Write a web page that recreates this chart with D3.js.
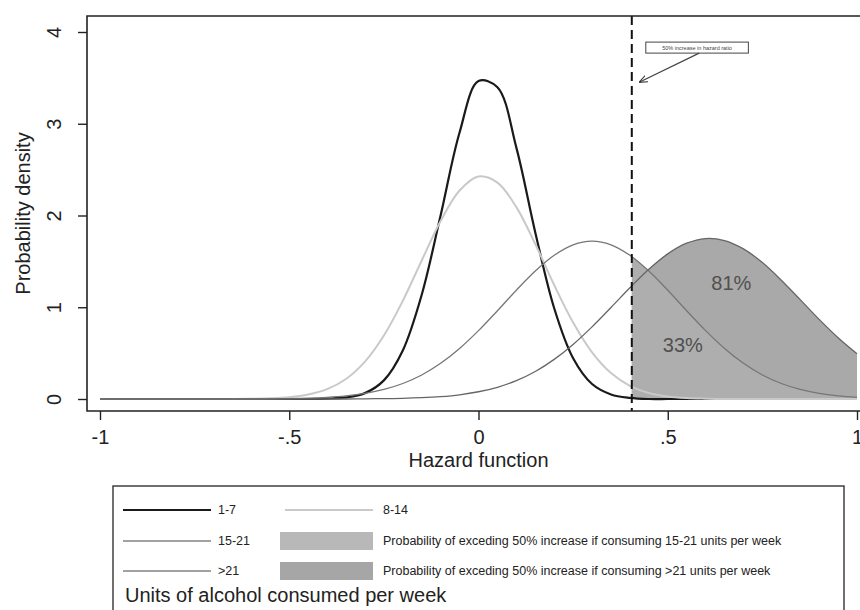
<!DOCTYPE html>
<html>
<head>
<meta charset="utf-8">
<script src="https://cdn.jsdelivr.net/npm/d3@7"></script>
<style>
  body { margin: 0; background: #fff; }
  svg { font-family: "Liberation Sans", Arial, sans-serif; }
</style>
</head>
<body>
<div id="chart"></div>
<script>
const hazard = [-1, -0.95, -0.9, -0.85, -0.8, -0.75, -0.7, -0.65, -0.6, -0.55, -0.5,
  -0.45, -0.4, -0.35, -0.3, -0.25, -0.2, -0.15, -0.1, -0.05, 0,
  0.05, 0.1, 0.15, 0.2, 0.25, 0.3, 0.35, 0.4, 0.45, 0.5,
  0.55, 0.6, 0.65, 0.7, 0.75, 0.8, 0.85, 0.9, 0.95, 1];

const units1to7 = [0, 0, 0, 0, 0, 0, 0, 0, 0, 0, 0,
  0, 0.004, 0.017, 0.064, 0.203, 0.529, 1.136, 2.003, 2.905, 3.465,
  3.398, 2.740, 1.816, 0.989, 0.444, 0.163, 0.050, 0.012, 0, 0,
  0, 0, 0, 0, 0, 0, 0, 0, 0, 0];
const units8to14 = [0, 0, 0, 0, 0, 0, 0, 0, 0.002, 0.007, 0.019,
  0.048, 0.107, 0.218, 0.407, 0.692, 1.070, 1.510, 1.940, 2.272, 2.425,
  2.359, 2.091, 1.689, 1.242, 0.833, 0.509, 0.283, 0.144, 0.066, 0.028,
  0.011, 0.004, 0, 0, 0, 0, 0, 0, 0, 0];
const units15to21 = [0, 0, 0, 0, 0, 0, 0, 0, 0, 0, 0.005,
  0.009, 0.018, 0.034, 0.061, 0.104, 0.169, 0.262, 0.389, 0.551, 0.745,
  0.962, 1.186, 1.395, 1.567, 1.681, 1.720, 1.681, 1.567, 1.395, 1.186,
  0.962, 0.745, 0.551, 0.389, 0.262, 0.169, 0.104, 0.061, 0.034, 0.018];
const units21plus = [0, 0, 0, 0, 0, 0, 0, 0, 0, 0, 0,
  0, 0, 0, 0.002, 0.004, 0.007, 0.014, 0.026, 0.046, 0.079,
  0.128, 0.200, 0.300, 0.432, 0.595, 0.786, 0.997, 1.212, 1.414, 1.582,
  1.698, 1.749, 1.727, 1.636, 1.487, 1.295, 1.083, 0.868, 0.668, 0.493];

const xTicks = [-1, -0.5, 0, 0.5, 1];
const xTickLabels = ['-1', '-.5', '0', '.5', '1'];
const yTicks = [0, 1, 2, 3, 4];

// log(1.5): a 50% increase in hazard
const threshold = 0.405;
const shareLabels = [
  { text: '81%', x: 0.668, y: 1.26 },
  { text: '33%', x: 0.54, y: 0.59 }
];

const width = 860;
const height = 610;
const frameLeft = 87;
const frameTop = 16;
const frameBottom = 411;

const svg = d3.select('#chart')
  .append('svg')
    .attr('width', width)
    .attr('height', height)
    .attr('viewBox', [0, 0, width, height]);

const x = d3.scaleLinear().domain([-1, 1]).range([100, 857]);
const y = d3.scaleLinear().domain([0, 4]).range([399, 32]);

const series = [
  { name: '1-7', values: units1to7, color: '#1a1a1a', width: 2.2 },
  { name: '8-14', values: units8to14, color: '#c9c9c9', width: 2 },
  { name: '15-21', values: units15to21, color: '#767676', width: 1.3 },
  { name: '>21', values: units21plus, color: '#666', width: 1.3 }
];
const points = s => hazard.map((h, i) => [h, s.values[i]]);

const line = d3.line()
  .x(d => x(d[0]))
  .y(d => y(d[1]))
  .curve(d3.curveCatmullRom);

const area = d3.area()
  .x(d => x(d[0]))
  .y0(y(0))
  .y1(d => y(d[1]))
  .curve(d3.curveCatmullRom);

// shaded tails past the threshold
svg.append('clipPath')
    .attr('id', 'tail')
  .append('rect')
    .attr('x', x(threshold))
    .attr('y', 0)
    .attr('width', width - x(threshold))
    .attr('height', y(0));

svg.append('path')
    .datum(points(series[3]))
    .attr('d', area)
    .attr('clip-path', 'url(#tail)')
    .attr('fill', '#a9a9a9');

svg.append('path')
    .datum(points(series[2]))
    .attr('d', area)
    .attr('clip-path', 'url(#tail)')
    .attr('fill', '#aeaeae');

svg.selectAll('.density')
  .data(series)
  .join('path')
    .attr('class', 'density')
    .attr('d', d => line(points(d)))
    .attr('fill', 'none')
    .attr('stroke', d => d.color)
    .attr('stroke-width', d => d.width);

svg.selectAll('.share')
  .data(shareLabels)
  .join('text')
    .attr('class', 'share')
    .attr('x', d => x(d.x))
    .attr('y', d => y(d.y))
    .attr('dy', '0.35em')
    .attr('text-anchor', 'middle')
    .attr('font-size', 20)
    .attr('fill', '#505050')
    .text(d => d.text);

// threshold line
svg.append('line')
    .attr('x1', x(threshold))
    .attr('x2', x(threshold))
    .attr('y1', frameTop)
    .attr('y2', frameBottom)
    .attr('stroke', '#111')
    .attr('stroke-width', 2)
    .attr('stroke-dasharray', '9,5');

// annotation box + arrow
svg.append('defs').append('marker')
    .attr('id', 'arrow')
    .attr('viewBox', '0 0 10 10')
    .attr('refX', 9)
    .attr('refY', 5)
    .attr('markerWidth', 7)
    .attr('markerHeight', 7)
    .attr('orient', 'auto')
  .append('path')
    .attr('d', 'M0,1L10,5L0,9')
    .attr('fill', 'none')
    .attr('stroke', '#333')
    .attr('stroke-width', 1.2);

svg.append('rect')
    .attr('x', x(0.442))
    .attr('y', y(3.89))
    .attr('width', x(0.713) - x(0.442))
    .attr('height', y(3.77) - y(3.89))
    .attr('fill', '#fff')
    .attr('stroke', '#444')
    .attr('stroke-width', 1);

svg.append('text')
    .attr('x', (x(0.442) + x(0.713)) / 2)
    .attr('y', y(3.83))
    .attr('dy', '0.35em')
    .attr('text-anchor', 'middle')
    .attr('font-size', 5.5)
    .attr('fill', '#444')
    .text('50% increase in hazard ratio');

svg.append('line')
    .attr('x1', x(0.583))
    .attr('y1', y(3.77))
    .attr('x2', x(0.426))
    .attr('y2', y(3.455))
    .attr('stroke', '#444')
    .attr('stroke-width', 1.2)
    .attr('marker-end', 'url(#arrow)');

// frame
svg.append('path')
    .attr('d', `M${width},${frameTop}H${frameLeft}V${frameBottom}H${width}`)
    .attr('fill', 'none')
    .attr('stroke', '#222')
    .attr('stroke-width', 1.6);

// axes
const xAxis = svg.append('g')
    .attr('transform', `translate(0,${frameBottom})`)
    .call(d3.axisBottom(x)
      .tickValues(xTicks)
      .tickFormat((d, i) => xTickLabels[i])
      .tickSize(9)
      .tickPadding(10));
xAxis.select('.domain').remove();
xAxis.selectAll('line').attr('stroke', '#222').attr('stroke-width', 1.4);
xAxis.selectAll('text')
    .attr('font-size', 20)
    .attr('font-family', '"Liberation Sans", Arial, sans-serif')
    .attr('fill', '#222');

const yAxis = svg.append('g')
    .attr('transform', `translate(${frameLeft},0)`)
    .call(d3.axisLeft(y)
      .tickValues(yTicks)
      .tickFormat(d3.format('d'))
      .tickSize(9));
yAxis.select('.domain').remove();
yAxis.selectAll('line').attr('stroke', '#222').attr('stroke-width', 1.4);
yAxis.selectAll('text')
    .attr('x', null)
    .attr('dy', null)
    .attr('transform', 'translate(-33,0) rotate(-90)')
    .attr('text-anchor', 'middle')
    .attr('dominant-baseline', 'central')
    .attr('font-size', 20)
    .attr('font-family', '"Liberation Sans", Arial, sans-serif')
    .attr('fill', '#222');

svg.append('text')
    .attr('x', x(0))
    .attr('y', 467)
    .attr('text-anchor', 'middle')
    .attr('font-size', 20)
    .attr('fill', '#222')
    .text('Hazard function');

svg.append('text')
    .attr('transform', `translate(30,${(frameTop + frameBottom) / 2}) rotate(-90)`)
    .attr('text-anchor', 'middle')
    .attr('font-size', 20)
    .attr('fill', '#222')
    .text('Probability density');

// legend
const legend = svg.append('g');
legend.append('rect')
    .attr('x', 113)
    .attr('y', 486)
    .attr('width', 731)
    .attr('height', 160)
    .attr('fill', '#fff')
    .attr('stroke', '#333')
    .attr('stroke-width', 1.4);

const legendRows = [510, 541, 571];
const lineItems = [
  { s: series[0], col: 0, row: 0 },
  { s: series[1], col: 1, row: 0 },
  { s: series[2], col: 0, row: 1 },
  { s: series[3], col: 0, row: 2 }
];
const colX = [123, 285];
const colText = [218, 383];

legend.selectAll('.key-line')
  .data(lineItems)
  .join('line')
    .attr('class', 'key-line')
    .attr('x1', d => colX[d.col])
    .attr('x2', d => colX[d.col] + 88)
    .attr('y1', d => legendRows[d.row])
    .attr('y2', d => legendRows[d.row])
    .attr('stroke', d => d.row === 0 ? d.s.color : '#444')
    .attr('stroke-width', d => d.row === 0 ? d.s.width : 1);

legend.selectAll('.key-label')
  .data(lineItems)
  .join('text')
    .attr('class', 'key-label')
    .attr('x', d => colText[d.col])
    .attr('y', d => legendRows[d.row])
    .attr('dy', '0.35em')
    .attr('font-size', 12.5)
    .attr('fill', '#222')
    .text(d => d.s.name);

const fillItems = [
  { color: '#b8b8b8', row: 1, text: 'Probability of exceding 50% increase if consuming 15-21 units per week' },
  { color: '#a6a6a6', row: 2, text: 'Probability of exceding 50% increase if consuming >21 units per week' }
];

legend.selectAll('.key-box')
  .data(fillItems)
  .join('rect')
    .attr('class', 'key-box')
    .attr('x', 280)
    .attr('y', d => legendRows[d.row] - 9)
    .attr('width', 93)
    .attr('height', 18)
    .attr('fill', d => d.color);

legend.selectAll('.key-text')
  .data(fillItems)
  .join('text')
    .attr('class', 'key-text')
    .attr('x', colText[1])
    .attr('y', d => legendRows[d.row])
    .attr('dy', '0.35em')
    .attr('font-size', 12.5)
    .attr('fill', '#222')
    .text(d => d.text);

legend.append('text')
    .attr('x', 125)
    .attr('y', 595)
    .attr('dy', '0.35em')
    .attr('font-size', 20)
    .attr('fill', '#222')
    .text('Units of alcohol consumed per week');
</script>
</body>
</html>
